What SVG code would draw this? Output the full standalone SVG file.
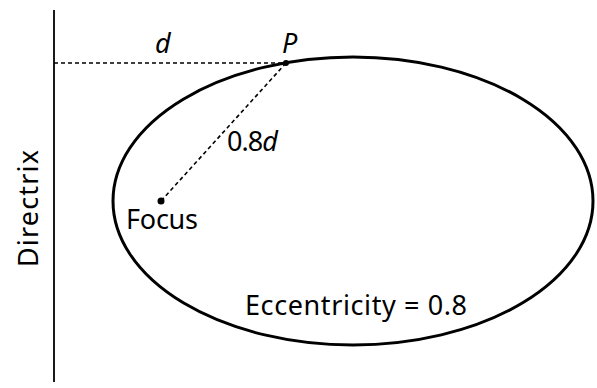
<svg xmlns="http://www.w3.org/2000/svg" width="597" height="388" viewBox="0 0 597 388">
<style>
text{font-family:"Noto Sans","DejaVu Sans",sans-serif;font-size:27px;fill:#000}
.it{font-style:italic}
.dash{stroke:#000;stroke-width:1.6;stroke-dasharray:4 3;fill:none}
</style>
<rect width="597" height="388" fill="#fff"/>
<g id="directrix">
<line x1="54" y1="10" x2="54" y2="382" stroke="#000" stroke-width="1.8"/>
<text transform="translate(38,267) rotate(-90)" textLength="117" lengthAdjust="spacing">Directrix</text>
</g>
<g id="ellipse">
<ellipse cx="353" cy="201" rx="240" ry="144" fill="none" stroke="#000" stroke-width="3"/>
<text x="245" y="315" textLength="222" lengthAdjust="spacing">Eccentricity = 0.8</text>
</g>
<g id="connectors">
<line class="dash" x1="54" y1="63" x2="286" y2="63"/>
<line class="dash" x1="286" y1="63" x2="161" y2="201"/>
</g>
<g id="focus">
<circle cx="161" cy="201" r="3.5" fill="#000"/>
<text x="126" y="229" textLength="72" lengthAdjust="spacing">Focus</text>
</g>
<g id="point-p">
<circle cx="286" cy="63" r="3" fill="#000"/>
<text class="it" x="282" y="53">P</text>
</g>
<g id="labels">
<text class="it" x="155" y="53">d</text>
<text x="227" y="151" textLength="51" lengthAdjust="spacing">0.8<tspan class="it">d</tspan></text>
</g>
</svg>
